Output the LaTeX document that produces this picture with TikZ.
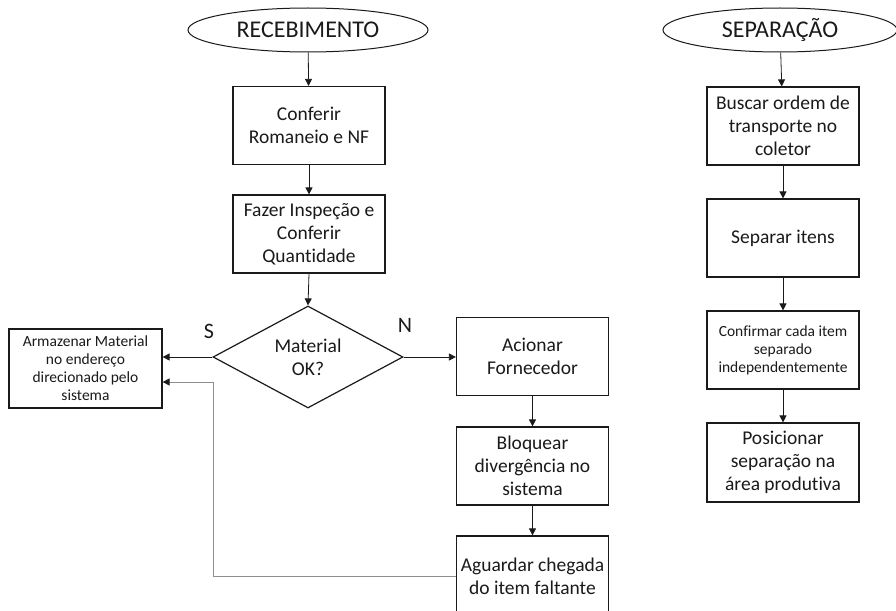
\documentclass[tikz,border=0pt]{standalone}
\usepackage{fontspec}
\setmainfont{Carlito}[Ligatures=NoCommon]
\usetikzlibrary{arrows.meta,shapes.geometric,positioning,calc}
\definecolor{ink}{HTML}{1A1A1A}
\definecolor{muted}{HTML}{8E8E8E}
\newcommand{\LeftX}{309}
\newcommand{\NoX}{532.5}
\newcommand{\StoreX}{85.5}
\newcommand{\RightX}{783}
\newcommand{\DecY}{357}
\newcommand{\TopY}{30}

\begin{document}
\begin{tikzpicture}[
    x=1pt, y=-1pt, ink,
    font=\fontsize{19.5}{23}\selectfont,
    flow/.style={-{Triangle[length=7pt,width=7pt]}, line width=0.8pt, draw=ink},
    feedback/.style={-{Triangle[length=7pt,width=7pt,color=ink]}, line width=1pt, draw=muted},
    terminal/.style={ellipse, draw=ink, line width=1pt, fill=white, minimum width=240pt, minimum height=44pt, inner sep=0pt, font=\fontsize{24}{27}\selectfont},
    stepbox/.style={rectangle, draw=ink, line width=1.2pt, fill=white, minimum width=152pt, minimum height=78pt, inner sep=2pt, align=center},
    decision/.style={diamond, draw=ink, line width=1.2pt, fill=white, aspect=1.9, minimum width=190pt, minimum height=102pt, inner sep=0pt, align=center},
    answer/.style={font=\fontsize{22}{26}\selectfont, inner sep=0pt},
    small/.style={font=\fontsize{15.5}{18}\selectfont},
  ]

\useasboundingbox (0,0) rectangle (896,610);

% --- Recebimento ---------------------------------------------------------------
\node[terminal] (rec) at (\LeftX-1, \TopY) {RECEBIMENTO};
\node[stepbox] (check) at (\LeftX, 125.5) {Conferir\\Romaneio e NF};
\node[stepbox] (inspect) at (\LeftX, 234) {Fazer Inspeção e\\Conferir\\Quantidade};
\node[decision] (ok) at (\LeftX-1, \DecY) {Material\\OK?};
\node[answer] (yes) at (209, 331) {S};
\node[answer] (no) at (405, 325) {N};

\node[stepbox, small, minimum width=153pt, minimum height=79pt] (store) at (\StoreX, 368.5) {Armazenar Material\\no endereço\\direcionado pelo\\sistema};
\node[stepbox] (supplier) at (\NoX, 356.5) {Acionar\\Fornecedor};
\node[stepbox] (block) at (\NoX, 466) {Bloquear\\divergência no\\sistema};
\node[stepbox, minimum height=80pt] (wait) at (\NoX, 576) {Aguardar chegada\\do item faltante};
\coordinate (bend) at (213, 382);

\draw[flow] (rec) -- (check);
\draw[flow] (check) -- (inspect);
\draw[flow] (inspect.south) -- (ok.north);
\draw[flow] (ok.west) -- (store.east |- ok.west);
\draw[flow] (ok.east) -- (supplier.west |- ok.east);
\draw[flow] (supplier) -- (block);
\draw[flow] (block) -- (wait);
\draw[feedback] (wait.west) -| (bend) -- (store.east |- bend);

% --- Separação -----------------------------------------------------------------
\node[terminal, minimum width=234pt] (sep) at (780, \TopY) {SEPARAÇÃO};
\node[stepbox] (fetch) at (\RightX, 126) {Buscar ordem de\\transporte no\\coletor};
\node[stepbox] (pickitems) at (\RightX, 238) {Separar itens};
\node[stepbox, small] (confirm) at (\RightX, 350) {Confirmar cada item\\separado\\independentemente};
\node[stepbox, minimum height=79pt] (place) at (\RightX, 462.5) {Posicionar\\separação na\\área produtiva};

\draw[flow] (sep) -- (fetch);
\draw[flow] (fetch) -- (pickitems);
\draw[flow] (pickitems) -- (confirm);
\draw[flow] (confirm) -- (place);

\end{tikzpicture}
\end{document}
